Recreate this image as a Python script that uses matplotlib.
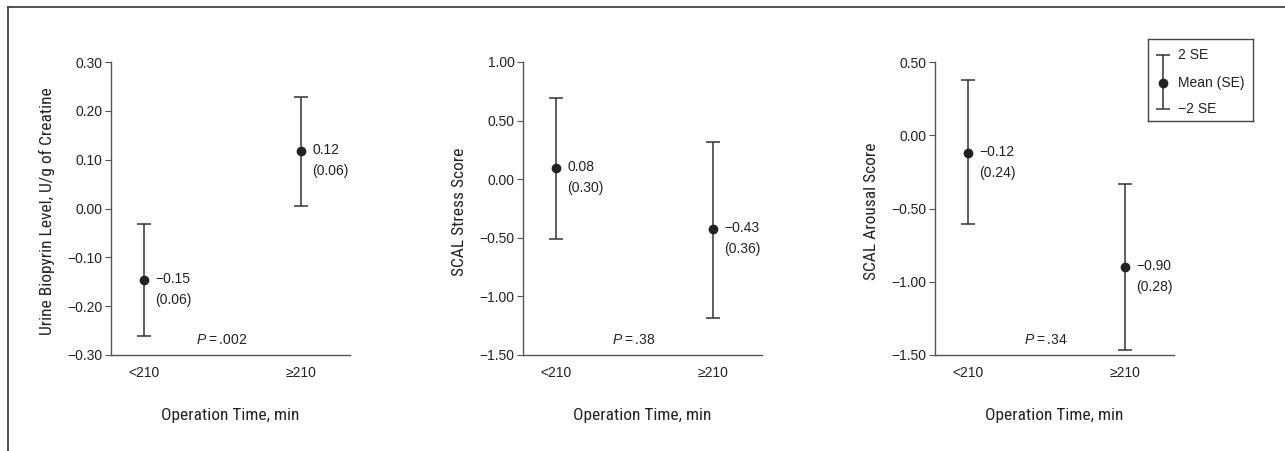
import matplotlib
matplotlib.use("Agg")
import matplotlib.pyplot as plt
from matplotlib.ticker import FixedLocator, FuncFormatter
from matplotlib.lines import Line2D

plt.rcParams['font.family'] = ['Liberation Sans', 'DejaVu Sans']
plt.rcParams['mathtext.fontset'] = 'custom'
plt.rcParams['mathtext.rm'] = 'Liberation Sans'
plt.rcParams['mathtext.it'] = 'Liberation Sans:italic'

# ---- data ----
categories = ["<210", "\u2265210"]
biopyrin_mean = [-0.147, 0.118]
biopyrin_low = [-0.262, 0.005]
biopyrin_high = [-0.032, 0.228]
biopyrin_mean_txt = ["\u22120.15", "0.12"]
biopyrin_se_txt = ["(0.06)", "(0.06)"]

stress_mean = [0.098, -0.422]
stress_low = [-0.508, -1.182]
stress_high = [0.69, 0.32]
stress_mean_txt = ["0.08", "\u22120.43"]
stress_se_txt = ["(0.30)", "(0.36)"]

arousal_mean = [-0.121, -0.901]
arousal_low = [-0.608, -1.466]
arousal_high = [0.375, -0.335]
arousal_mean_txt = ["\u22120.12", "\u22120.90"]
arousal_se_txt = ["(0.24)", "(0.28)"]

ylabels = ["Urine Biopyrin Level, U/g of Creatine", "SCAL Stress Score", "SCAL Arousal Score"]
yticks_list = [
    [-0.30, -0.20, -0.10, 0.00, 0.10, 0.20, 0.30],
    [-1.50, -1.00, -0.50, 0.00, 0.50, 1.00],
    [-1.50, -1.00, -0.50, 0.00, 0.50],
]
p_texts = [".002", ".38", ".34"]
xlabel = "Operation Time, min"
legend_texts = ["2 SE", "Mean (SE)", "\u22122 SE"]

panels = [
    (biopyrin_mean, biopyrin_low, biopyrin_high, biopyrin_mean_txt, biopyrin_se_txt),
    (stress_mean, stress_low, stress_high, stress_mean_txt, stress_se_txt),
    (arousal_mean, arousal_low, arousal_high, arousal_mean_txt, arousal_se_txt),
]

W, H = 1285, 451
fig = plt.figure(figsize=(W / 100, H / 100), dpi=100)

ax_lefts = [111, 523, 935]
ax_w, ax_top, ax_bot = 239, 62, 355
xpos = [1, 2]
fs = 10
label_font = dict(family=['Roboto Condensed', 'DejaVu Sans'], size=12.5)
dark = "#222222"
spine_c = "#555555"

fmt = FuncFormatter(lambda v, p: f"{v:.2f}".replace("-", "\u2212"))

for i, (mean, low, high, mtxt, setxt) in enumerate(panels):
    ax = fig.add_axes([ax_lefts[i] / W, (H - ax_bot) / H, ax_w / W, (ax_bot - ax_top) / H])
    yerr = [[m - l for m, l in zip(mean, low)], [h - m for m, h in zip(mean, high)]]
    ax.errorbar(xpos, mean, yerr=yerr, fmt='o', color=dark, ecolor="#333333",
                markersize=6, capsize=5, elinewidth=1.1, capthick=1.1)
    for x, m, t1, t2 in zip(xpos, mean, mtxt, setxt):
        ax.annotate(t1, (x, m), xytext=(11, 1), textcoords='offset pixels',
                    ha='left', va='center', fontsize=fs, color=dark)
        ax.annotate(t2, (x, m), xytext=(11, -20), textcoords='offset pixels',
                    ha='left', va='center', fontsize=fs, color=dark)
    yt = yticks_list[i]
    ax.set_ylim(yt[0], yt[-1])
    ax.yaxis.set_major_locator(FixedLocator(yt))
    ax.yaxis.set_major_formatter(fmt)
    ax.set_xlim(0.79, 2.31)
    ax.set_xticks(xpos)
    ax.set_xticklabels(categories)
    ax.tick_params(axis='x', length=0, pad=8, labelsize=fs, colors=dark)
    ax.tick_params(axis='y', length=4, width=0.8, color=spine_c, pad=2, labelsize=fs, labelcolor=dark)
    for s in ['top', 'right']:
        ax.spines[s].set_visible(False)
    for s in ['left', 'bottom']:
        ax.spines[s].set_color(spine_c)
        ax.spines[s].set_linewidth(1.0)
    ax.set_ylabel(ylabels[i], fontdict=label_font, color=dark)
    ax.yaxis.set_label_coords(-0.236, 0.49)
    ax.text(0.5, -0.205, xlabel, transform=ax.transAxes, ha='center', va='center',
            color=dark, **label_font)
    ax.text(0.464, 0.052, r"$P$" + "\u2009=\u2009" + p_texts[i], transform=ax.transAxes,
            ha='center', va='center', fontsize=fs, color=dark)

# legend
lax = fig.add_axes([1148 / W, (H - 121) / H, 105 / W, 82 / H])
lax.set_xlim(0, 1)
lax.set_ylim(0, 1)
lax.set_xticks([])
lax.set_yticks([])
for s in lax.spines.values():
    s.set_color("#444444")
    s.set_linewidth(1.0)
lax.errorbar([0.143], [0.463], yerr=[[0.317], [0.342]], fmt='o', color=dark,
             ecolor="#333333", markersize=6, capsize=5, elinewidth=1.1, capthick=1.1)
for yy, t in zip([0.805, 0.463, 0.146], legend_texts):
    lax.text(0.286, yy, t, ha='left', va='center', fontsize=fs, color=dark)

# outer frame lines
fig.add_artist(Line2D([8 / W, 1], [1 - 7 / H, 1 - 7 / H], color="#444444", lw=1.3))
fig.add_artist(Line2D([8 / W, 8 / W], [0, 1 - 7 / H], color="#444444", lw=1.3))

fig.savefig("out.png", dpi=100)
